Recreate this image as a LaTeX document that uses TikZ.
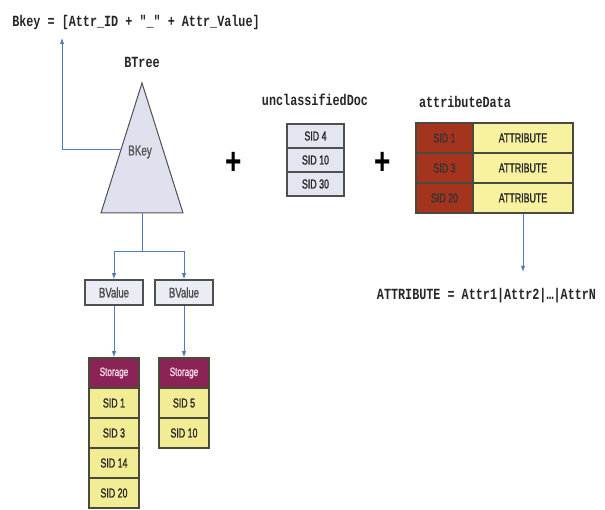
\documentclass[tikz,border=0pt]{standalone}
\usepackage{fontspec}
\usetikzlibrary{arrows.meta}
\newfontfamily\cellfont[FakeStretch=0.68,FakeBold=1.2]{Liberation Sans}
\newfontfamily\codefont[FakeStretch=0.76,Ligatures=TeXOff]{Liberation Mono}
\definecolor{arrowblue}{HTML}{4F7DBA}
\definecolor{edgegray}{HTML}{4F4F4F}
\definecolor{cellborder}{HTML}{4A4A3A}
\definecolor{lavender}{HTML}{E3E6F1}
\definecolor{trifill}{HTML}{DFE2EE}
\definecolor{storagehead}{HTML}{8C2356}
\definecolor{storagetext}{HTML}{F6DDEA}
\definecolor{sidyellow}{HTML}{F2EC94}
\definecolor{attrred}{HTML}{A5341F}
\definecolor{attryellow}{HTML}{F7F1A0}
\begin{document}
\begin{tikzpicture}[x=1pt,y=-1pt,
  conn/.style={draw=arrowblue,line width=1pt,-{Latex[length=6pt,width=4.5pt]}},
  plainline/.style={draw=arrowblue,line width=1pt},
  codelabel/.style={inner sep=0pt,font=\codefont\bfseries\fontsize{15.5}{17}\selectfont,text=black!85},
  cellbox/.style={draw=cellborder,line width=1.5pt,inner sep=0pt,text=black!85,
    font=\cellfont\fontsize{13}{14}\selectfont},
  udoc/.style={cellbox,draw=edgegray,fill=lavender,minimum width=57pt,minimum height=24pt},
  bval/.style={cellbox,draw=edgegray,fill=lavender!70,minimum width=58pt,minimum height=25pt,
    font=\cellfont\fontsize{14}{15}\selectfont,text=black!70},
  sthead/.style={cellbox,fill=storagehead,text=storagetext,minimum width=50pt,minimum height=30pt,
    font=\cellfont\fontsize{12}{13}\selectfont},
  stcell/.style={cellbox,fill=sidyellow,minimum width=50pt,minimum height=30pt},
  asid/.style={cellbox,fill=attrred,text=black!80,minimum width=57pt,minimum height=30pt},
  aval/.style={cellbox,fill=attryellow,minimum width=100pt,minimum height=30pt},
  plussign/.style={inner sep=0pt,font=\fontspec{Liberation Sans Bold}\fontsize{28}{30}\selectfont,yscale=1.35}
]
\useasboundingbox (0,0) rectangle (605,510);

% title and BTree
\node[codelabel] (bkeyeq) at (136,22) {Bkey = [Attr\_ID + "\_" + Attr\_Value]};
\node[codelabel] (btreelbl) at (142,62) {BTree};

% triangle
\coordinate (apex) at (142,83);
\coordinate (baseleft) at (101,213);
\coordinate (baseright) at (183,213);
\coordinate (basemid) at (142,213);
\draw[draw=edgegray,line width=1pt,fill=trifill] (apex) -- (baseright) -- (baseleft) -- cycle;
\node[inner sep=0pt,text=black!65,font=\cellfont\fontsize{14.5}{15}\selectfont] (bkey) at (140,152) {BKey};

% arrow to title
\coordinate (bkeyside) at (121,150);
\coordinate (bkeytip) at (62,38);
\draw[conn] (bkeyside) -| (bkeytip);

% plus signs
\node[plussign] (plusa) at (234,163) {+};
\node[plussign] (plusb) at (383,163) {+};

% unclassifiedDoc
\node[codelabel] (udoclbl) at (315,100) {unclassifiedDoc};
\node[udoc] (u1) at (315.5,136) {SID 4};
\node[udoc] (u2) at (315.5,160) {SID 10};
\node[udoc] (u3) at (315.5,184) {SID 30};

% attributeData
\node[codelabel] (adatalbl) at (465,102) {attributeData};
\node[asid] (a1s) at (444.5,138) {SID 1};
\node[aval] (a1v) at (523,138) {ATTRIBUTE};
\node[asid] (a2s) at (444.5,168) {SID 3};
\node[aval] (a2v) at (523,168) {ATTRIBUTE};
\node[asid] (a3s) at (444.5,198) {SID 20};
\node[aval] (a3v) at (523,198) {ATTRIBUTE};
\coordinate (attrtip) at (523,272);
\draw[conn] (a3v.south) -- (attrtip);
\node[codelabel] (attreq) at (486.5,296) {ATTRIBUTE = Attr1|Attr2|…|AttrN};

% BValue boxes
\node[bval] (bv1) at (114,292.5) {BValue};
\node[bval] (bv2) at (184,292.5) {BValue};
\coordinate (split) at (142,252);
\draw[plainline] (basemid) -- (split);
\draw[conn] (split) -| (bv1.north);
\draw[conn] (split) -| (bv2.north);

% storage columns
\node[sthead] (st1) at (114,373) {Storage};
\node[stcell] (s11) at (114,403) {SID 1};
\node[stcell] (s12) at (114,433) {SID 3};
\node[stcell] (s13) at (114,463) {SID 14};
\node[stcell] (s14) at (114,493) {SID 20};
\node[sthead] (st2) at (184,373) {Storage};
\node[stcell] (s21) at (184,403) {SID 5};
\node[stcell] (s22) at (184,433) {SID 10};
\draw[conn] (bv1.south) -- (st1.north);
\draw[conn] (bv2.south) -- (st2.north);
\end{tikzpicture}
\end{document}
